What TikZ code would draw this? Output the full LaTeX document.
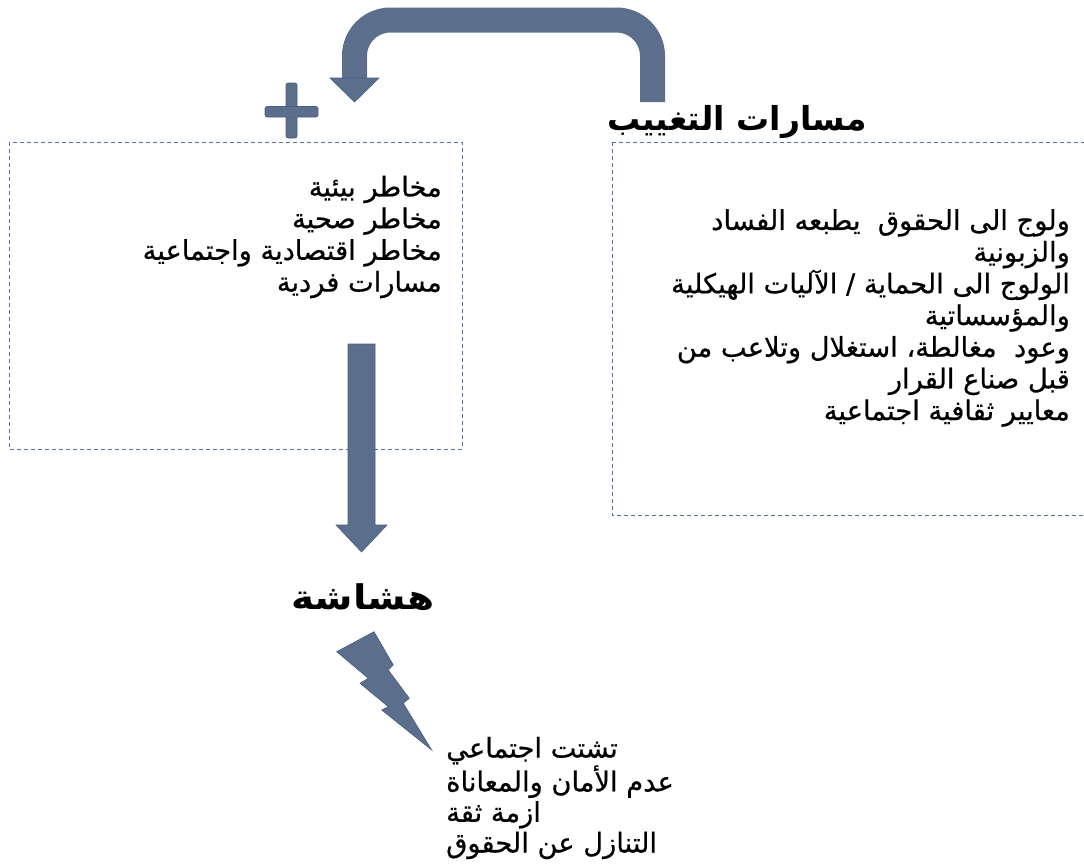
\documentclass[tikz,border=0pt]{standalone}
\usepackage{fontspec}
\newfontfamily\arabicfont[Script=Arabic,FakeBold=0.6]{DejaVu Sans}
\newfontfamily\arabicbold[Script=Arabic]{DejaVu Sans Bold}
\newfontfamily\arabicwide[Script=Arabic,FakeStretch=1.15]{DejaVu Sans Bold}
\TeXXeTstate=1
\newcommand{\ar}[1]{\beginR #1\endR}
\definecolor{shapefill}{RGB}{91,110,140}
\definecolor{shapeedge}{RGB}{72,96,134}
\definecolor{dashblue}{RGB}{80,115,170}
\tikzset{
  boxframe/.style={draw=dashblue, dash pattern=on 4pt off 3pt, line width=0.9pt},
  solidshape/.style={fill=shapefill, draw=shapeedge, line width=0.6pt},
  bandline/.style={draw=shapefill, line width=25pt},
  artext/.style={font=\arabicfont\fontsize{27.3}{31.7}\selectfont, inner sep=0pt},
  artight/.style={font=\arabicfont\fontsize{27.3}{30.6}\selectfont, inner sep=0pt},
  artitle/.style={font=\arabicbold\fontsize{33}{38}\selectfont, inner sep=0pt},
  arwide/.style={font=\arabicwide\fontsize{34}{38}\selectfont, inner sep=0pt},
}
\begin{document}
\begin{tikzpicture}[x=1pt,y=-1pt]
\useasboundingbox[fill=white] (0,0) rectangle (1084,863);
% dashed boxes
\draw[boxframe] (9,142) rectangle (462,449);
\draw[boxframe] (612,142) rectangle (1095,515);
% texts
\node[artitle] (title) at (737,122) {\ar{مسارات التغييب}};
\node[arwide] (hash) at (363,597) {\ar{هشاشة}};
\node[artext, anchor=east, align=right] (leftlist) at (442,237)
  {\ar{مخاطر بيئية}\\ \ar{مخاطر صحية}\\ \ar{مخاطر اقتصادية واجتماعية}\\ \ar{مسارات فردية}};
\node[artext, anchor=east, align=right] (rightlist) at (1070,318)
  {\ar{ولوج الى الحقوق\ \ يطبعه الفساد}\\ \ar{والزبونية}\\ \ar{الولوج الى الحماية / الآليات الهيكلية}\\ \ar{والمؤسساتية}\\ \ar{وعود\ \ مغالطة، استغلال وتلاعب من}\\ \ar{قبل صناع القرار}\\ \ar{معايير ثقافية اجتماعية}};
\node[artight, anchor=west, align=left] (bottomlist) at (446,798)
  {\ar{تشتت اجتماعي}\\ \ar{عدم الأمان والمعاناة}\\ \ar{ازمة ثقة}\\ \ar{التنازل عن الحقوق}};
% U-shaped arrow
\coordinate (ustart) at (652.5,102);
\coordinate (uend) at (354.5,79);
\draw[bandline, rounded corners=36pt] (ustart) -- (652.5,20) -- (354.5,20) -- (uend);
\filldraw[solidshape] (330,78) -- (379,78) -- (354.5,102) -- cycle;
% plus sign
\filldraw[solidshape, rounded corners=2pt] (286,83) rectangle (297,138);
\filldraw[solidshape, rounded corners=2pt] (265,106.5) rectangle (318,117);
\fill[shapefill] (286.4,107) rectangle (296.6,116.5);
% down arrow
\coordinate (dtop) at (361.5,344);
\coordinate (dtip) at (361.5,552);
\filldraw[solidshape] (348,344) -- (375,344) -- (375,525) -- (387,525) -- (dtip) -- (336,525) -- (348,525) -- cycle;
% lightning bolt
\filldraw[solidshape] (336.7,651.7) -- (374,631.7) -- (393.3,665) -- (388.3,670) -- (409.3,698.3) -- (403.3,703.3) -- (431.7,750) -- (381.7,710) -- (388.3,706.7) -- (360,683.3) -- (368.3,678.3) -- cycle;
\end{tikzpicture}
\end{document}
